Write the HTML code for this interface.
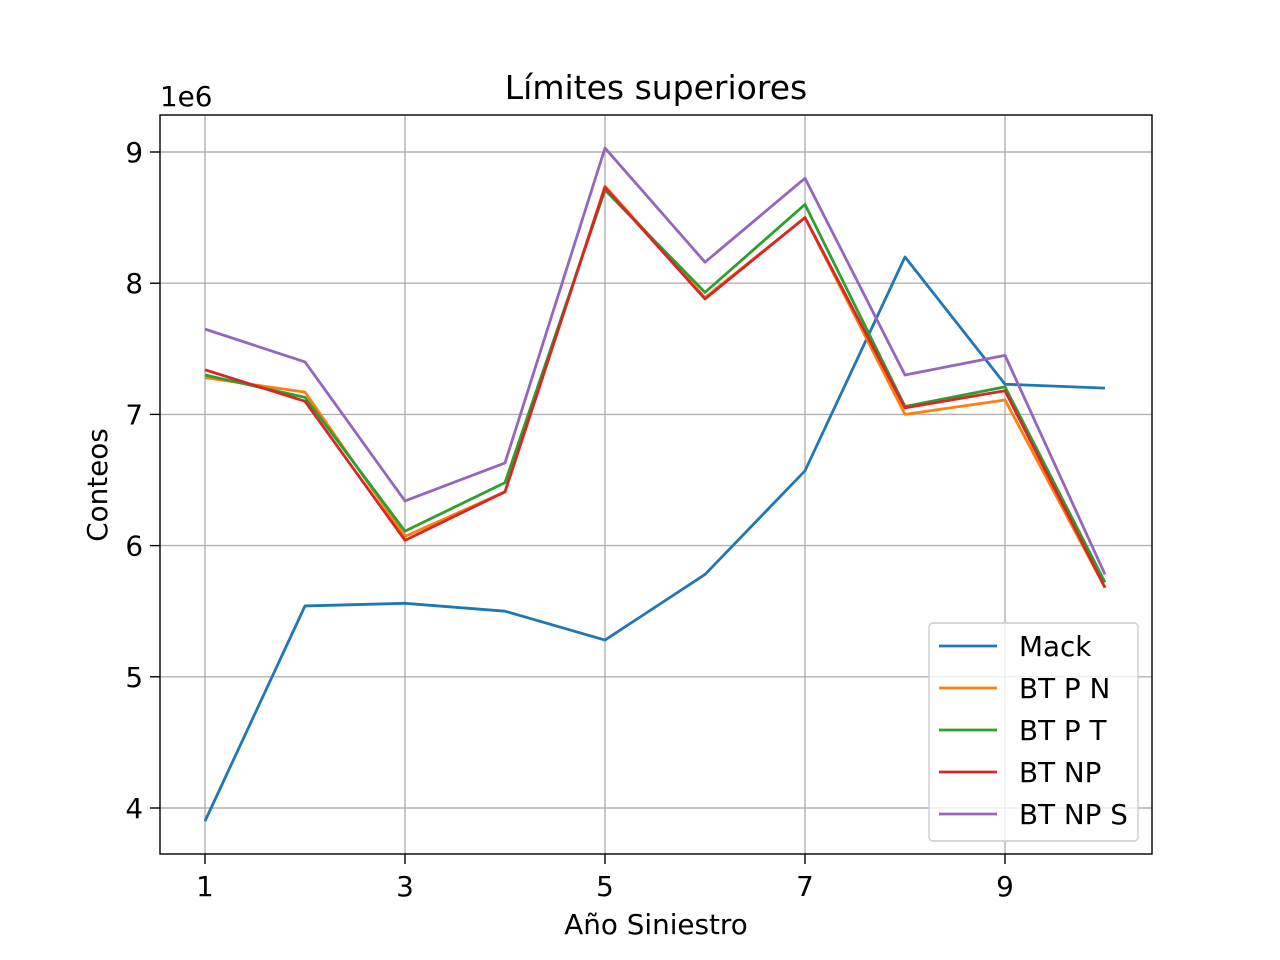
<!DOCTYPE html>
<html><head><meta charset="utf-8">
<style>
html,body{margin:0;padding:0;background:#fff;}
svg{display:block;font-family:"DejaVu Sans","Liberation Sans",sans-serif;}
</style></head>
<body>
<svg id="chart" width="1280" height="960" xmlns="http://www.w3.org/2000/svg">
<rect width="1280" height="960" fill="#fff"/>
<g id="grid"></g>
<g id="series"></g>
<rect x="160" y="115" width="992" height="739" fill="none" stroke="#000" stroke-width="1.4"/>
<g id="ticks"></g>
<text x="656" y="99" font-size="33" text-anchor="middle">Límites superiores</text>
<text x="656" y="934" font-size="27.8" text-anchor="middle">Año Siniestro</text>
<text transform="translate(107,485) rotate(-90)" font-size="27.8" text-anchor="middle">Conteos</text>
<text x="160" y="106" font-size="27.8">1e6</text>
<g id="legend"></g>
</svg>
<script>
const years = [1,2,3,4,5,6,7,8,9,10];
const mack = [3.90,5.54,5.56,5.50,5.28,5.78,6.57,8.20,7.23,7.20];
const btPN = [7.28,7.17,6.07,6.41,8.74,7.89,8.50,7.00,7.11,5.68];
const btPT = [7.30,7.13,6.11,6.48,8.71,7.93,8.60,7.06,7.21,5.72];
const btNP = [7.34,7.10,6.04,6.41,8.73,7.88,8.50,7.05,7.18,5.68];
const btNPS = [7.65,7.40,6.34,6.63,9.03,8.16,8.80,7.30,7.45,5.78];
const seriesNames = ["Mack","BT P N","BT P T","BT NP","BT NP S"];
const xTicks = [1,3,5,7,9];
const yTicks = [4,5,6,7,8,9];

const NS="http://www.w3.org/2000/svg";
const X = v => 205 + (v-1)*100;
const Y = v => 808 - (v-4)*131.2;
const colors = ["#1f77b4","#ff7f0e","#2ca02c","#d62728","#9467bd"];
const data = [mack,btPN,btPT,btNP,btNPS];
function mk(tag, attrs, parent){const e=document.createElementNS(NS,tag);for(const k in attrs)e.setAttribute(k,attrs[k]);parent.appendChild(e);return e;}
const grid=document.getElementById('grid'), ticks=document.getElementById('ticks');
xTicks.forEach(t=>{
  const g=mk('line',{x1:X(t),x2:X(t),y1:115,y2:854,stroke:'#b0b0b0','stroke-width':1.4},grid);
  
  
  const tk=mk('line',{x1:X(t),x2:X(t),y1:854,y2:864,stroke:'#000','stroke-width':1.4},ticks);
  
  
  const tx=mk('text',{x:X(t),y:896,'font-size':27.8,'text-anchor':'middle'},ticks);
  tx.textContent=t;
  
  
});
yTicks.forEach(t=>{
  const g=mk('line',{x1:160,x2:1152,y1:Y(t),y2:Y(t),stroke:'#b0b0b0','stroke-width':1.4},grid);
  
  
  const tk=mk('line',{x1:150,x2:160,y1:Y(t),y2:Y(t),stroke:'#000','stroke-width':1.4},ticks);
  
  
  const tx=mk('text',{x:143,y:Y(t)+10,'font-size':27.8,'text-anchor':'end'},ticks);
  tx.textContent=t;
  
  
});
const sg=document.getElementById('series');
data.forEach((arr,i)=>{
  const pts=arr.map((v,j)=>X(years[j])+','+Y(v)).join(' ');
  const p=mk('polyline',{points:pts,fill:'none',stroke:colors[i],'stroke-width':2.8,'stroke-linejoin':'round'},sg);
  
  
});
const lg=document.getElementById('legend');
const box=mk('rect',{x:929,y:623,width:209,height:218,rx:4,fill:'#fff','fill-opacity':0.8,stroke:'#ccc','stroke-width':1.4},lg);


seriesNames.forEach((n,i)=>{
  const y=646+i*42;
  const l=mk('line',{x1:939,x2:997,y1:y,y2:y,stroke:colors[i],'stroke-width':2.8},lg);
  
  
  const t=mk('text',{x:1019,y:y+10,'font-size':27.8},lg);
  t.textContent=n;
  
  
});
</script>
</body></html>
